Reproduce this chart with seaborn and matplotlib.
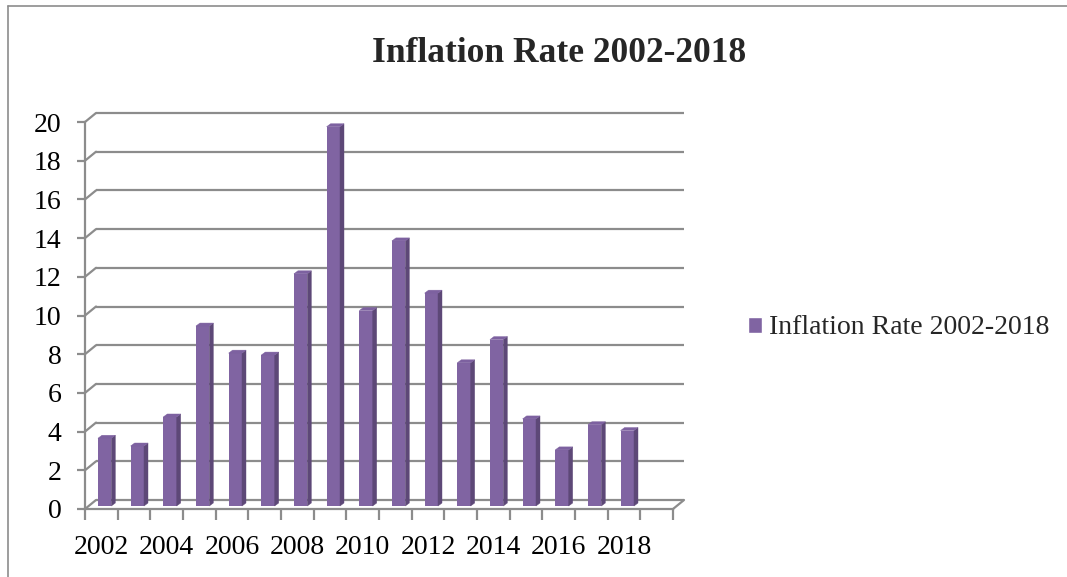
import numpy as np
import pandas as pd
import matplotlib
matplotlib.use('Agg')
import matplotlib.pyplot as plt
import matplotlib.transforms as mtransforms
from matplotlib.lines import Line2D
from matplotlib.patches import Polygon, Patch
import seaborn as sns

sns.set_style('white')
plt.rcParams['font.family'] = ['Liberation Serif', 'DejaVu Serif']

# data
years = [str(y) for y in range(2002, 2019)]
rates = [3.5, 3.1, 4.6, 9.3, 7.9, 7.8, 12.0, 19.6, 10.1, 13.7, 11.0, 7.4, 8.6, 4.5, 2.9, 4.2, 3.9]
yticks = list(range(0, 21, 2))
label_years = years[::2]
series_name = 'Inflation Rate 2002-2018'

front = '#8064a2'
side = '#5d4877'
topc = '#7d61a0'
grid = '#8c8c8c'

df = pd.DataFrame({'year': years, 'rate': rates})

W, H = 1067, 577
fig = plt.figure(figsize=(W / 100, H / 100), dpi=100)
ax = fig.add_axes([85 / W, 1 - 509 / H, 588 / W, 387 / H])

sns.barplot(data=df, x='year', y='rate', color=front, width=0.41,
            saturation=1, linewidth=0, ax=ax, zorder=3)
ax.set_xlim(-0.5, 17.5)
ax.set_ylim(0, 20)
ax.set_xlabel('')
ax.set_ylabel('')

# fake 3d: depth offsets in pixels
depth = (11, 9)
bar_shift = (3.3, 3)
bar_depth = (4, 3)
ident = mtransforms.IdentityTransform()
shift = mtransforms.Affine2D().translate(*bar_shift)

bars = list(ax.patches)
for p in bars:
    p.set_transform(ax.transData + shift)
    x0, y0 = ax.transData.transform((p.get_x(), p.get_y())) + bar_shift
    x1, y1 = ax.transData.transform((p.get_x() + p.get_width(),
                                     p.get_y() + p.get_height())) + bar_shift
    dx, dy = bar_depth
    ax.add_patch(Polygon([(x1, y0), (x1 + dx, y0 + dy), (x1 + dx, y1 + dy), (x1, y1)],
                         closed=True, facecolor=side, edgecolor=side, lw=0.3,
                         transform=ident, zorder=3, clip_on=False))
    ax.add_patch(Polygon([(x0, y1), (x0 + dx, y1 + dy), (x1 + dx, y1 + dy), (x1, y1)],
                         closed=True, facecolor=topc, edgecolor=topc, lw=0.3,
                         transform=ident, zorder=3, clip_on=False))

# back wall gridlines
back = ax.transData + mtransforms.Affine2D().translate(*depth)
ax.hlines(yticks, -0.5, 17.5, colors=grid, lw=1.6, transform=back,
          zorder=1, clip_on=False)

# side wall / floor diagonals
for y in yticks:
    px, py = ax.transData.transform((-0.5, y))
    ax.add_line(Line2D([px, px + depth[0]], [py, py + depth[1]], color=grid,
                       lw=1.6, transform=ident, zorder=1, clip_on=False))
px, py = ax.transData.transform((17.5, 0))
ax.add_line(Line2D([px, px + depth[0]], [py, py + depth[1]], color=grid,
                   lw=1.6, transform=ident, zorder=1, clip_on=False))

for s in ['top', 'right']:
    ax.spines[s].set_visible(False)
for s in ['left', 'bottom']:
    ax.spines[s].set_color(grid)
    ax.spines[s].set_linewidth(1.6)

ax.set_yticks(yticks)
ax.tick_params(axis='y', left=True, length=6, width=1.6, color=grid,
               pad=11, labelsize=20, labelcolor='black')
ax.set_xticks(range(0, 17, 2))
ax.set_xticklabels(label_years)
ax.set_xticks(np.arange(-0.5, 18, 1), minor=True)
ax.tick_params(axis='x', which='major', bottom=True, length=0, pad=19,
               labelsize=20, labelcolor='black')
ax.tick_params(axis='x', which='minor', bottom=True, length=8, width=1.6,
               color=grid)

fig.text(559 / W, 1 - 54 / H, series_name, ha='center', va='center',
         fontsize=25.5, fontweight='bold')

fig.legend(handles=[Patch(facecolor=front)], labels=[series_name],
           loc='center left', bbox_to_anchor=(748 / W, 1 - 328 / H),
           frameon=False, fontsize=20, handlelength=0.5, handleheight=0.5,
           handletextpad=0.25, borderpad=0, borderaxespad=0)

# chart frame
fig.add_artist(Line2D([8 / W, 8 / W], [0, 1 - 6 / H], color=grid, lw=1.2))
fig.add_artist(Line2D([8 / W, 1], [1 - 6 / H, 1 - 6 / H], color=grid, lw=1.2))

fig.savefig('out.png', dpi=100)
